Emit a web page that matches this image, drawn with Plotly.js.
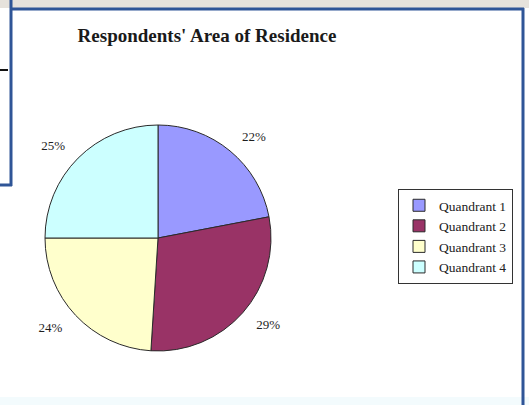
<!DOCTYPE html>
<html>
<head>
<meta charset="utf-8">
<script src="https://cdn.plot.ly/plotly-3.0.1.min.js"></script>
<style>html,body{margin:0;padding:0;background:#fff;}#chart{width:529px;height:405px;}</style>
</head>
<body>
<div id="chart"></div>
<script>
const categories = ["Quandrant 1", "Quandrant 2", "Quandrant 3", "Quandrant 4"];
const shares = [22, 29, 24, 25];
const sliceColors = ["#9999FF", "#993366", "#FFFFCC", "#CCFFFF"];

const W = 529, H = 405;
const cx = 158, cy = 238, r = 113, rLab = 126;
const serif = "Liberation Serif, Times New Roman, serif";

function dom(rad) {
  return {x: [(cx - rad) / W, (cx + rad) / W], y: [(H - cy - rad) / H, (H - cy + rad) / H]};
}

const pieTrace = {
  type: "pie",
  labels: categories,
  values: shares,
  sort: false,
  direction: "clockwise",
  rotation: 0,
  textinfo: "none",
  marker: {colors: sliceColors, line: {color: "#2a2a2a", width: 1}},
  domain: dom(r),
  hoverinfo: "label+percent"
};

// same data, transparent, slightly larger: carries the percentage labels further out
const labelTrace = {
  type: "pie",
  labels: categories,
  values: shares,
  sort: false,
  direction: "clockwise",
  rotation: 0,
  showlegend: false,
  texttemplate: "%{percent:.0%}",
  textposition: "outside",
  outsidetextfont: {family: serif, size: 13, color: "#1e1e1e"},
  marker: {colors: ["rgba(0,0,0,0)", "rgba(0,0,0,0)", "rgba(0,0,0,0)", "rgba(0,0,0,0)"], line: {width: 0}},
  domain: dom(rLab),
  hoverinfo: "skip"
};

const frameBlue = "#2f5597";
const layout = {
  width: W, height: H,
  margin: {l: 0, r: 0, t: 0, b: 0},
  paper_bgcolor: "#ffffff",
  title: {
    text: "<b>Respondents' Area of Residence</b>",
    font: {family: serif, size: 19, color: "#1a1a1a"},
    x: 207 / W, xanchor: "center", y: 1 - 35 / H, yanchor: "middle"
  },
  showlegend: true,
  legend: {
    x: 398 / W, xanchor: "left", y: 1 - 189 / H, yanchor: "top",
    bordercolor: "#333", borderwidth: 1, bgcolor: "#ffffff",
    font: {family: serif, size: 13.5, color: "#222"},
    itemwidth: 30, tracegroupgap: 0
  },
  shapes: [
    {type: "rect", xref: "paper", yref: "paper", x0: 0, x1: 1, y0: 1 - 8 / H, y1: 1, fillcolor: "#e6e2dc", line: {width: 0}, layer: "below"},
    {type: "rect", xref: "paper", yref: "paper", x0: 0, x1: 1, y0: 0, y1: 8 / H, fillcolor: "#f3fbfd", line: {width: 0}, layer: "below"},
    {type: "line", xref: "paper", yref: "paper", x0: 10 / W, x1: 524 / W, y0: 1 - 9 / H, y1: 1 - 9 / H, line: {color: frameBlue, width: 3}},
    {type: "line", xref: "paper", yref: "paper", x0: 11 / W, x1: 11 / W, y0: 1, y1: 1 - 186 / H, line: {color: frameBlue, width: 3}},
    {type: "line", xref: "paper", yref: "paper", x0: 0, x1: 12 / W, y0: 1 - 185 / H, y1: 1 - 185 / H, line: {color: frameBlue, width: 3}},
    {type: "line", xref: "paper", yref: "paper", x0: 523 / W, x1: 523 / W, y0: 1 - 8 / H, y1: 0, line: {color: frameBlue, width: 3}},
    {type: "line", xref: "paper", yref: "paper", x0: 0, x1: 8 / W, y0: 1 - 70 / H, y1: 1 - 70 / H, line: {color: "#111", width: 2}}
  ]
};

Plotly.newPlot("chart", [pieTrace, labelTrace], layout, {staticPlot: true, displayModeBar: false});
</script>
</body>
</html>
